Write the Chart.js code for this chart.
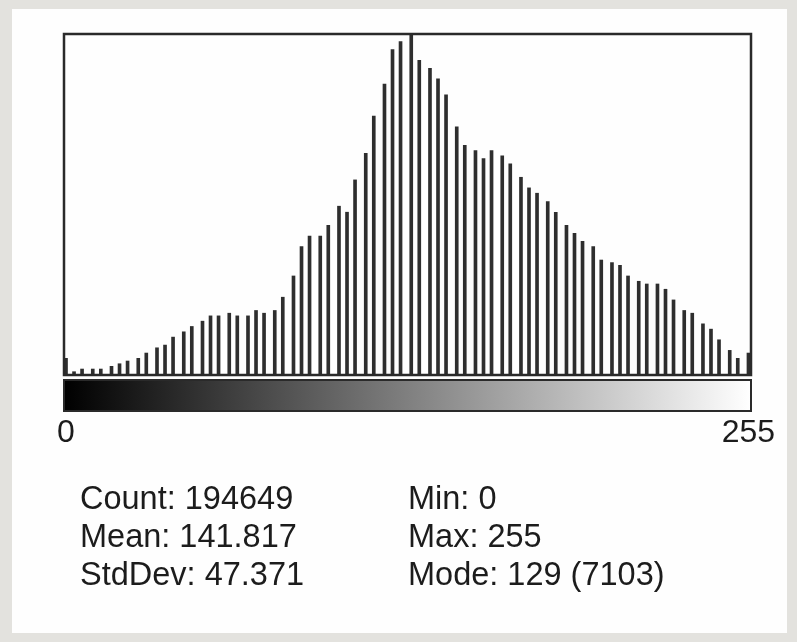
<!DOCTYPE html>
<html>
<head>
<meta charset="utf-8">
<script src="https://cdn.jsdelivr.net/npm/chart.js@4/dist/chart.umd.min.js"></script>
<style>
  html, body { margin: 0; padding: 0; }
  body { width: 797px; height: 642px; background: #e3e2de; position: relative; overflow: hidden; font-family: "Liberation Sans", Arial, sans-serif; }
  #panel { position: absolute; left: 12px; top: 9px; width: 775px; height: 624px; background: #fefefe; }
  #wrap { position: absolute; left: 0; top: 0; width: 797px; height: 642px; }
  .stats { position: absolute; top: 479px; font-size: 32.5px; line-height: 38px; color: #1c1c1c; white-space: pre; }
</style>
</head>
<body>
<div id="panel"></div>
<div id="wrap"><canvas id="c" width="797" height="642"></canvas></div>
<div class="stats" id="statsLeft" style="left:80px"></div>
<div class="stats" id="statsRight" style="left:408px"></div>
<script>
// Grey levels that are populated (bin index 0..255)
const bins = [0,3,6,10,13,17,20,23,27,30,34,37,40,44,47,51,54,57,61,64,68,71,74,78,81,85,88,91,95,98,
  102,105,108,112,115,119,122,125,129,132,136,139,142,146,149,153,156,159,163,166,170,173,176,180,183,187,190,193,197,
  200,204,207,210,214,217,221,224,227,231,234,238,241,244,248,251,255];
// Pixel counts per populated bin
const counts = [328,48,104,104,104,161,215,272,328,439,549,606,773,884,996,1107,1218,1218,1274,1218,1218,1331,1274,1331,1609,
  2054,2668,2889,2889,3113,3516,3390,4067,4623,5404,6073,6796,6963,7103,6574,6407,6184,5849,
  5181,4790,4680,4512,4680,4569,4402,4122,3900,3788,3614,3390,3113,2946,2779,2668,
  2388,2334,2277,2054,1943,1886,1886,1776,1552,1331,1274,1051,940,717,495,328,439];
const tickValues = [0, 255];
const modeCount = 7103;
const statsLeft = ["Count: 194649", "Mean: 141.817", "StdDev: 47.371"];
const statsRight = ["Min: 0", "Max: 255", "Mode: 129 (7103)"];

document.getElementById('statsLeft').textContent = statsLeft.join('\n');
document.getElementById('statsRight').textContent = statsRight.join('\n');

const frame = {
  id: 'frame',
  afterDatasetsDraw(chart) {
    const {ctx, chartArea: a} = chart;
    ctx.save();
    ctx.strokeStyle = '#2a2a2a';
    ctx.lineWidth = 2.5;
    ctx.strokeRect(a.left, a.top - 1, a.right - a.left, a.bottom - a.top + 2);
    // grey-scale ramp under the plot
    const top = a.bottom + 6, h = 31;
    const g = ctx.createLinearGradient(a.left, 0, a.right, 0);
    g.addColorStop(0, '#000000');
    g.addColorStop(1, '#ffffff');
    ctx.fillStyle = g;
    ctx.fillRect(a.left, top, a.right - a.left, h);
    ctx.lineWidth = 2;
    ctx.strokeRect(a.left, top, a.right - a.left, h);
    ctx.restore();
  }
};

new Chart(document.getElementById('c'), {
  type: 'bar',
  data: {
    datasets: [{
      data: bins.map((b, i) => ({x: b, y: counts[i]})),
      backgroundColor: '#2e2e2e',
      borderWidth: 0,
      barThickness: 3,
      grouped: false
    }]
  },
  options: {
    responsive: false,
    animation: false,
    events: [],
    layout: { padding: { left: 64, right: 46, top: 35, bottom: 193 } },
    plugins: { legend: { display: false }, tooltip: { enabled: false } },
    scales: {
      x: {
        type: 'linear',
        offset: false,
        min: -0.75,
        max: 255.95,
        grid: { display: false, drawTicks: false, offset: false },
        border: { display: false },
        afterBuildTicks: s => { s.ticks = tickValues.map(v => ({value: v})); },
        afterFit: s => { s.height = 75; s.paddingLeft = 0; s.paddingRight = 0; },
        ticks: {
          padding: 40,
          maxRotation: 0,
          autoSkip: false,
          color: '#1c1c1c',
          font: { family: 'Liberation Sans', size: 32 },
          callback: v => String(v)
        }
      },
      y: {
        display: false,
        min: 0,
        max: modeCount
      }
    }
  },
  plugins: [frame]
});
</script>
</body>
</html>
